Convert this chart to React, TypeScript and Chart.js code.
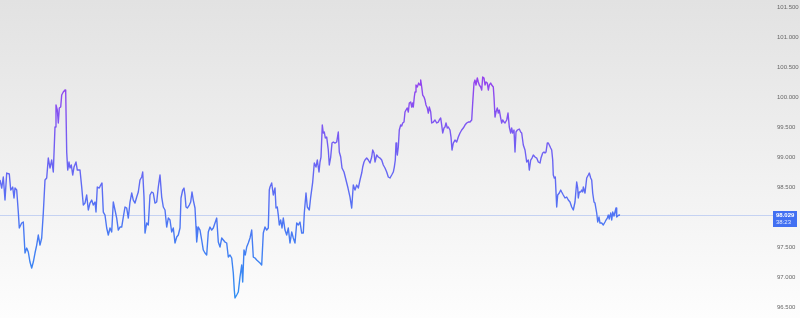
import React, { useEffect, useRef } from "react";
import { Chart, registerables } from "chart.js";

Chart.register(...registerables);

// Time position of each sample (bar units) and the price at that time
const barTime: number[] = [
  0, 1.7, 3.3, 5, 6.7, 9.3, 10.7, 12.7, 14, 15, 16.7, 18.3, 19.3, 21.7, 23.3, 25, 26.7, 28.3, 30, 31.7,
  33.3, 35, 36.7, 38.3, 40, 41.7, 43.3, 45, 46.7, 48.3, 50, 51.7, 53.3, 55, 56, 57.3, 58.3, 59.3, 60.7, 61.7,
  63.3, 65, 65.7, 66.7, 67.7, 69, 70, 71.3, 72.7, 74, 76, 77.3, 80, 81.7, 83.3, 85, 86.7, 88.3,
  90, 91.7, 93.3, 95, 96, 97.3, 99.3, 100.7, 102, 103.3, 105, 106.7, 108.3, 110, 111.7, 113.3, 115, 116.7, 118.3, 120,
  121.7, 123.3, 125, 126.7, 128.3, 130, 131.7, 133.3, 135, 136.7, 138.3, 140, 141.7, 142.7, 144, 145, 146.7, 148.3, 150, 151.7,
  153.3, 155, 156.7, 158.3, 160, 161.7, 163.3, 165, 166.7, 168.3, 170, 171.7, 173.3, 175, 176.7, 178.3, 180,
  181, 182.7, 184, 185, 186, 187.3, 189.3, 190.7, 192, 193.3, 195, 196, 196.7, 198.3, 200, 201.7, 203.3, 205, 206.7, 208.3,
  210, 211.7, 213.3, 215, 216.7, 218.3, 220, 221.7, 223.3, 225, 226.7, 228.3, 230, 231.7, 233.3, 234.3, 235, 236.7, 238.3, 240,
  241.7, 242.7, 244, 245.3, 246.7, 248.3, 250, 251.7, 253.3, 255, 256.7, 260, 261.7, 263.3, 265, 266.7, 268.3, 269.3,
  270, 271.7, 273.3, 275, 276, 277.3, 278.3, 279.3, 280.7, 282, 283.3, 285, 286.7, 288.3, 290, 291.7, 293.3, 295, 296.7, 298.3,
  300, 301.7, 303.3, 304.3, 306, 307.3, 309.3, 310.7, 312.7, 314.3, 316, 317.3, 319, 320, 321, 322.3, 323.3, 324.3, 325.3, 326.7,
  328.3, 329.3, 330.7, 332, 333.3, 335, 336.7, 338.3, 339.3, 340.7, 342, 344, 346, 348, 350, 351.7, 353.3, 355, 356.7, 358.3,
  360, 361.7, 362.7, 364, 365, 366.7, 368.3, 370, 371.7, 372.7, 374, 375, 376.7, 378.3, 380, 381.7, 383.3, 385, 386.7, 388.3,
  390, 391.7, 393.3, 394.3, 395.3, 396, 396.7, 397.3, 398.3, 399.3, 400.7, 401.7, 402.7, 404, 405, 406, 407.3, 408.3, 409.3, 410.7,
  411.7, 412.7, 413.3, 414.3, 415, 416, 417.3, 418.7, 420, 420.7, 421.7, 422.7, 424, 425, 426, 427.3, 428.3, 429.3, 430.7, 431.7,
  433.3, 435, 436.7, 438.3, 439.3, 440.7, 441.7, 442.7, 444, 445, 446, 447.3, 448.3, 450,
  451, 452, 453.3, 455, 456.7, 458.3, 460, 461.7, 463.3, 465, 466.7, 468.3, 470, 471.7, 472.7, 474, 475, 476, 477.3, 478.3,
  479.3, 480.7, 481.7, 482.7, 484, 485, 486, 487.3, 488.3, 489.3, 490.7, 491.7, 493.3, 494, 495, 496, 497.3, 498.3, 499.3, 500.7,
  501.7, 502.7, 504, 505, 506.7, 508, 509.3, 510.7, 511.7, 512.7, 514, 515, 516, 517.3, 519.3, 520.7, 521.7, 523.3, 525, 526.7,
  528.3, 529.3, 530.7, 532, 533.3, 535, 536.7, 538.3, 540,
  541, 542.7, 544, 545, 546, 547.3, 548.3, 549.3, 550.7, 551.7, 552.7, 553.3, 554.3, 555.3, 556.7, 557.7, 559.3, 560.7, 561.7, 563.3,
  565, 566.7, 568.3, 570, 571.7, 573.3, 575, 576.7, 577.7, 578.3, 579.3, 580.7, 581.7, 582.7, 583.3, 585, 586.7, 588.3, 589.3, 590.7,
  591.7, 592.7, 594, 595, 596.7, 597.7, 599, 600, 601.7, 603.3, 605, 606, 607.3, 608.3, 609.3, 610, 610.7, 611.7, 612.7, 614,
  615, 616, 616.7, 617.7, 619, 620,
];

const price: number[] = [
  98.617, 98.483, 98.667, 98.283, 98.733, 98.717, 98.45, 98.5, 98.317, 98.483, 98.45, 98.083, 97.817, 97.9, 97.917, 97.4, 97.483, 97.417, 97.25, 97.15,
  97.25, 97.4, 97.533, 97.7, 97.533, 97.65, 98.067, 98.617, 98.65, 98.983, 98.817, 98.95, 98.75, 99.5, 99.867, 99.783, 99.567, 99.817, 99.833, 100.033,
  100.083, 100.117, 100.083, 99.083, 98.783, 98.917, 98.817, 98.867, 98.7, 98.833, 98.917, 98.783, 98.783, 98.5, 98.2, 98.233, 98.367, 98.117,
  98.233, 98.283, 98.2, 98.25, 98.083, 98.5, 98.483, 98.533, 98.567, 98.083, 98.033, 97.817, 97.7, 97.817, 97.75, 98.25, 98.117, 97.983, 97.783, 97.833,
  97.833, 98.0, 98.167, 98.15, 97.983, 98.25, 98.4, 98.283, 98.233, 98.333, 98.417, 98.617, 98.667, 98.75, 98.333, 97.733, 97.9, 97.867, 98.367, 98.417,
  98.4, 98.233, 98.25, 98.5, 98.7, 98.333, 98.167, 98.117, 97.833, 97.983, 97.95, 97.75, 97.817, 97.567, 97.667, 97.7, 97.817,
  98.317, 98.45, 98.483, 98.367, 98.167, 98.15, 98.2, 98.25, 98.417, 98.283, 98.15, 97.833, 97.583, 97.833, 97.783, 97.617, 97.45, 97.4, 97.367, 97.75,
  97.833, 97.783, 97.817, 97.9, 97.983, 97.583, 97.5, 97.65, 97.617, 97.583, 97.567, 97.333, 97.367, 97.317, 97.067, 96.783, 96.65, 96.7, 96.75, 97.0,
  97.2, 96.917, 97.45, 97.367, 97.5, 97.567, 97.65, 97.783, 97.333, 97.317, 97.283, 97.233, 97.2, 97.733, 97.833, 97.783, 97.817, 98.45,
  98.5, 98.567, 98.367, 98.483, 98.15, 98.167, 98.033, 97.867, 97.95, 97.817, 97.983, 97.783, 97.7, 97.817, 97.567, 97.75, 97.65, 97.567, 97.9, 97.867,
  97.917, 97.733, 97.733, 98.067, 98.4, 98.167, 98.117, 98.333, 98.583, 98.9, 98.833, 98.95, 98.75, 98.917, 99.0, 99.533, 99.4, 99.417, 99.317, 99.333,
  99.117, 98.867, 99.0, 99.233, 99.25, 99.233, 99.25, 99.417, 99.083, 99.0, 98.817, 98.75, 98.617, 98.483, 98.333, 98.15, 98.533, 98.45, 98.533, 98.483,
  98.617, 98.733, 98.833, 98.917, 98.95, 98.983, 98.95, 98.9, 99.0, 99.117, 99.067, 98.917, 99.033, 99.0, 98.983, 98.95, 98.867, 98.817, 98.75, 98.667,
  98.65, 98.7, 98.75, 98.833, 98.95, 99.233, 99.15, 99.033, 99.167, 99.45, 99.533, 99.517, 99.567, 99.583, 99.75, 99.783, 99.817, 99.75, 99.9, 99.917,
  99.833, 99.9, 99.833, 100.0, 100.083, 100.2, 100.167, 100.233, 100.2, 100.283, 100.167, 100.033, 100.0, 99.95, 99.867, 99.817, 99.733, 99.833, 99.75, 99.567,
  99.583, 99.617, 99.567, 99.583, 99.617, 99.65, 99.533, 99.4, 99.483, 99.5, 99.567, 99.483, 99.5, 99.45,
  99.333, 99.117, 99.233, 99.283, 99.25, 99.333, 99.4, 99.45, 99.483, 99.533, 99.567, 99.583, 99.583, 99.617, 99.9, 100.233, 100.283, 100.2, 100.317, 100.25,
  100.2, 100.167, 100.117, 100.333, 100.317, 100.2, 100.25, 100.233, 100.117, 100.2, 100.233, 100.2, 100.167, 100.0, 99.667, 99.75, 99.817, 99.733, 99.783, 99.65,
  99.567, 99.617, 99.583, 99.567, 99.617, 99.733, 99.5, 99.4, 99.483, 99.4, 99.45, 99.083, 99.417, 99.45, 99.467, 99.417, 99.4, 99.2, 99.117, 98.917,
  98.95, 98.783, 98.95, 98.983, 99.033, 99.0, 98.983, 98.917, 98.9,
  98.983, 99.067, 99.083, 99.067, 99.083, 99.233, 99.233, 99.2, 99.15, 99.117, 98.95, 98.7, 98.65, 98.667, 98.167, 98.367, 98.4, 98.45, 98.417, 98.367,
  98.317, 98.333, 98.283, 98.25, 98.167, 98.117, 98.25, 98.583, 98.483, 98.317, 98.417, 98.417, 98.45, 98.417, 98.5, 98.4, 98.65, 98.7, 98.733, 98.65,
  98.617, 98.4, 98.25, 98.233, 98.067, 97.917, 98.0, 97.9, 97.9, 97.867, 97.917, 97.95, 97.983, 98.033, 97.967, 98.033, 98.067, 97.95, 98.083, 98.017,
  98.083, 98.15, 98.0, 98.017, 98.033, 98.029,
];

const priceTicks: number[] = [96.5, 97.0, 97.5, 98.0, 98.5, 99.0, 99.5, 100.0, 100.5, 101.0, 101.5];
const yMin = 96.317;
const yMax = 101.617;
const timeAxisEnd = 773;
const lastPriceText = "98.029";
const countdownText = "38:23";

export default function App() {
  const ref = useRef<HTMLCanvasElement | null>(null);

  useEffect(() => {
    document.body.style.margin = "0";
    const canvas = ref.current;
    if (!canvas) return;
    const lastPrice = price[price.length - 1];
    const font = '"Liberation Sans", Arial, sans-serif';

    const bgPlugin = {
      id: "bg",
      beforeDraw(chart: any) {
        const c = chart.ctx;
        const g = c.createLinearGradient(0, 0, 0, chart.height);
        g.addColorStop(0, "#e2e2e2");
        g.addColorStop(1, "#fdfdfd");
        c.save();
        c.fillStyle = g;
        c.fillRect(0, 0, chart.width, chart.height);
        c.restore();
      },
      beforeDatasetsDraw(chart: any) {
        const c = chart.ctx;
        const y = chart.scales.y.getPixelForValue(lastPrice);
        const a = chart.chartArea;
        c.save();
        c.strokeStyle = "rgba(100,140,240,0.32)";
        c.lineWidth = 1;
        c.beginPath();
        c.moveTo(a.left, Math.round(y) + 0.5);
        c.lineTo(a.right, Math.round(y) + 0.5);
        c.stroke();
        c.restore();
      },
      afterDraw(chart: any) {
        const c = chart.ctx;
        const y = Math.round(chart.scales.y.getPixelForValue(lastPrice));
        const a = chart.chartArea;
        const x0 = a.right;
        c.save();
        c.fillStyle = "#4270f2";
        c.fillRect(x0, y - 4, 24, 16);
        c.fillStyle = "#ffffff";
        c.font = `bold 6px ${font}`;
        c.textAlign = "left";
        c.textBaseline = "middle";
        c.fillText(lastPriceText, x0 + 3, y + 0.5);
        c.fillStyle = "rgba(255,255,255,0.85)";
        c.font = `6px ${font}`;
        c.fillText(countdownText, x0 + 3, y + 7.5);
        c.restore();
      },
    };

    const chart = new Chart(canvas, {
      type: "line",
      data: {
        datasets: [
          {
            data: barTime.map((t, i) => ({ x: t, y: price[i] })),
            borderWidth: 1.4,
            pointRadius: 0,
            tension: 0,
            borderJoinStyle: "round",
            borderColor: (ctx: any) => {
              const ch = ctx.chart;
              if (!ch.chartArea || !ch.scales.y) return "#4f74f3";
              const ys = ch.scales.y;
              const top = ys.getPixelForValue(100.35);
              const bot = ys.getPixelForValue(96.6);
              const g = ch.ctx.createLinearGradient(0, bot, 0, top);
              g.addColorStop(0, "#3090f2");
              g.addColorStop(0.38, "#5074f4");
              g.addColorStop(0.75, "#7a5af2");
              g.addColorStop(1, "#9642ee");
              return g;
            },
          },
        ],
      },
      options: {
        animation: false,
        responsive: false,
        maintainAspectRatio: false,
        layout: { padding: 0, autoPadding: false },
        plugins: { legend: { display: false }, tooltip: { enabled: false } },
        scales: {
          x: { type: "linear", min: 0, max: timeAxisEnd, display: false },
          y: {
            position: "right",
            min: yMin,
            max: yMax,
            grid: { display: false, drawTicks: false },
            border: { display: false },
            afterBuildTicks: (scale: any) => {
              scale.ticks = priceTicks.map((v) => ({ value: v }));
            },
            afterFit: (scale: any) => {
              scale.width = 27;
              scale.paddingTop = 0;
              scale.paddingBottom = 0;
            },
            ticks: {
              crossAlign: "near",
              padding: 4,
              color: "#666666",
              font: { size: 6, family: font },
              callback: (v: any) => Number(v).toFixed(3),
            },
          },
        },
      },
      plugins: [bgPlugin],
    });
    return () => chart.destroy();
  }, []);

  return <canvas ref={ref} width={800} height={318} style={{ display: "block" }} />;
}
